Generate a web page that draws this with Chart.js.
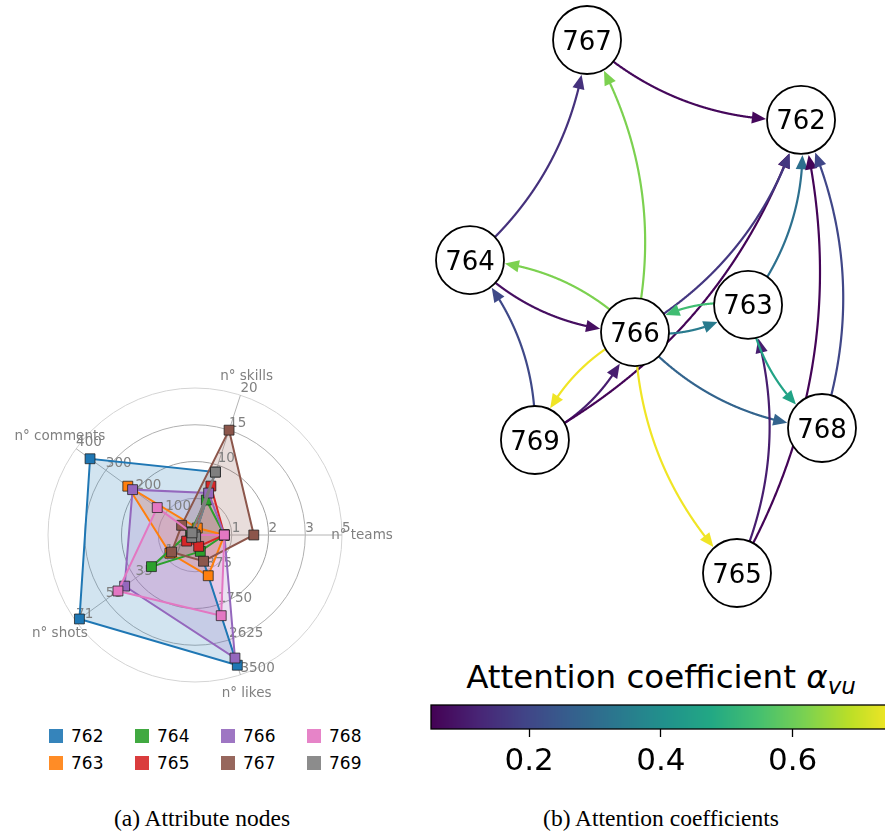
<!DOCTYPE html>
<html>
<head>
<meta charset="utf-8">
<script src="https://cdn.jsdelivr.net/npm/chart.js@4.4.1/dist/chart.umd.min.js"></script>
<style>
  html, body { margin: 0; padding: 0; width: 885px; height: 832px; overflow: hidden; background: #fff; }
  .abs { position: absolute; }
  #radarBox { left: 0; top: 340px; width: 400px; height: 370px; }
  #netBox { left: 420px; top: 0; width: 465px; height: 650px; }
  #cbarBox { left: 429px; top: 703px; width: 456px; height: 80px; overflow: hidden; }
  .cap { font-family: "Liberation Serif", serif; font-size: 23.5px; line-height: 23.5px; text-align: center; white-space: nowrap; color: #000; }
  #capA { left: 52px; width: 300px; top: 807px; }
  #capB { left: 511px; width: 300px; top: 807px; }
  #cbTitle { left: 411px; width: 500px; top: 661px; font-family: "DejaVu Sans", sans-serif; font-size: 32.5px; line-height: 32.5px; text-align: center; white-space: nowrap; color: #000; }
  #cbTitle .m { font-style: italic; }
  #cbTitle sub { font-style: italic; font-size: 23px; vertical-align: -6px; line-height: 0; }
  .lg { position: absolute; height: 14px; display: flex; align-items: center; font-family: "DejaVu Sans", sans-serif; font-size: 17px; line-height: 17px; color: #000; white-space: nowrap; }
  .lg .sw { width: 14px; height: 14px; margin-right: 8px; opacity: 0.9; box-sizing: border-box; }
</style>
</head>
<body>
<div id="radarBox" class="abs"><canvas id="radar" width="400" height="370"></canvas></div>
<div id="legend"></div>
<div id="capA" class="abs cap">(a) Attribute nodes</div>

<div id="netBox" class="abs"><canvas id="net" width="465" height="650"></canvas></div>
<div id="cbTitle" class="abs">Attention coefficient <span class="m">α</span><sub>vu</sub></div>
<div id="cbarBox" class="abs"><canvas id="cbar" width="474" height="80"></canvas></div>
<div id="capB" class="abs cap">(b) Attention coefficients</div>

<script>
// ---------- radar: attribute values per node ----------
const AXIS_LABELS = ['n° skills', 'n° teams', 'n° likes', 'n° shots', 'n° comments'];
const AXIS_MAX = [20, 5, 3500, 71, 400];
const TICK_FRACTIONS = [0.25, 0.5, 0.75, 1];

const SERIES_NAMES = ['762', '763', '764', '765', '766', '767', '768', '769'];
const SERIES_COLORS = ['#1f77b4', '#ff7f0e', '#2ca02c', '#d62728', '#9467bd', '#8c564b', '#e377c2', '#7f7f7f'];

// values in AXIS_LABELS order: skills, teams, likes, shots, comments
const V762 = [9, 0, 3260, 69, 353];
const V763 = [1, 1, 1020, 15, 226];
const V764 = [5, 1, 410, 26, 15];
const V765 = [7, 1, 285, 5, 10];
const V766 = [6, 1, 3080, 42, 210];
const V767 = [15, 2, 657, 14, 45];
const V768 = [0, 1, 2020, 46, 127];
const V769 = [9, 0, 50, 2, 10];
const SERIES_VALUES = [V762, V763, V764, V765, V766, V767, V768, V769];

// ---------- graph: attention between nodes ----------
const NODE_IDS = ['762', '763', '764', '765', '766', '767', '768', '769'];
const NODE_X = [0.881, 0.580, -1.0, 0.517, -0.0625, -0.335, 1.0, -0.631];
const NODE_Y = [0.70, 0.006, 0.174, -1.0, -0.096, 1.0, -0.456, -0.501];

const EDGE_SRC = ['767', '764', '766', '766', '764', '769', '766', '769', '769', '766', '763', '763', '766', '766', '766', '765', '763', '765', '768'];
const EDGE_DST = ['762', '767', '767', '764', '766', '764', '769', '766', '762', '762', '762', '766', '763', '768', '765', '763', '768', '762', '762'];
const EDGE_ATT = [0.065, 0.15, 0.62, 0.62, 0.08, 0.207, 0.746, 0.108, 0.058, 0.164, 0.313, 0.54, 0.342, 0.278, 0.746, 0.108, 0.462, 0.058, 0.2];

const ATT_MIN = 0.051;
const ATT_MAX = 0.76;
const CBAR_TICKS = [0.2, 0.4, 0.6];

// ---------- helpers ----------
const VIRIDIS = ['#440154', '#482475', '#414487', '#355f8d', '#2a788e', '#21918c', '#22a884', '#44bf70', '#7ad151', '#bddf26', '#fde725'];
function hexRgb(h) { return [parseInt(h.slice(1, 3), 16), parseInt(h.slice(3, 5), 16), parseInt(h.slice(5, 7), 16)]; }
function viridis(t) {
  t = Math.max(0, Math.min(1, t));
  const f = t * (VIRIDIS.length - 1);
  const i = Math.min(VIRIDIS.length - 2, Math.floor(f));
  const u = f - i;
  const a = hexRgb(VIRIDIS[i]), b = hexRgb(VIRIDIS[i + 1]);
  const c = a.map((v, k) => Math.round(v + (b[k] - v) * u));
  return `rgb(${c[0]},${c[1]},${c[2]})`;
}
function withAlpha(hex, a) { const c = hexRgb(hex); return `rgba(${c[0]},${c[1]},${c[2]},${a})`; }

Chart.defaults.font.family = '"DejaVu Sans", sans-serif';
Chart.defaults.animation = false;

// ---------- radar chart ----------
const radarText = {
  id: 'radarText',
  beforeDatasetsDraw(chart) {
    const s = chart.scales.r, ctx = chart.ctx;
    ctx.save();
    ctx.fillStyle = '#808080';
    ctx.font = '13.5px "DejaVu Sans"';
    ctx.textAlign = 'left';
    ctx.textBaseline = 'alphabetic';
    AXIS_LABELS.forEach((_, i) => {
      TICK_FRACTIONS.forEach(f => {
        const p = s.getPointPositionForValue(i, f);
        ctx.fillText(String(Math.trunc(AXIS_MAX[i] * f + 1e-9)), p.x, p.y - 3);
      });
    });
    ctx.textAlign = 'center';
    ctx.textBaseline = 'middle';
    AXIS_LABELS.forEach((lab, i) => {
      const p = s.getPointPosition(i, s.drawingArea + 20);
      ctx.fillText(lab, p.x, p.y);
    });
    ctx.restore();
  }
};

new Chart(document.getElementById('radar'), {
  type: 'radar',
  data: {
    labels: AXIS_LABELS,
    datasets: SERIES_NAMES.map((name, i) => ({
      label: name,
      data: SERIES_VALUES[i].map((v, k) => v / AXIS_MAX[k]),
      order: SERIES_NAMES.length - 1 - i,
      borderColor: SERIES_COLORS[i],
      backgroundColor: withAlpha(SERIES_COLORS[i], 0.2),
      borderWidth: 2,
      fill: 'origin',
      pointStyle: 'rect',
      pointRadius: 7,
      pointBorderWidth: 1,
      pointBackgroundColor: SERIES_COLORS[i],
      pointBorderColor: 'rgba(30,30,30,0.75)'
    }))
  },
  options: {
    responsive: false,
    events: [],
    layout: { padding: { left: 48, top: 48, right: 58, bottom: 28 } },
    plugins: {
      legend: { display: false },
      tooltip: { enabled: false },
      // all shaded areas sit beneath every outline and marker
      filler: { drawTime: 'beforeDatasetsDraw' }
    },
    scales: {
      r: {
        min: 0, max: 1,
        startAngle: 18,
        ticks: { display: false, stepSize: 0.25 },
        pointLabels: { display: false },
        grid: { circular: true, color: ['#000', '#b4b4b4', '#a2a2a2', '#b0b0b0', '#d4d4d4'], lineWidth: 1 },
        angleLines: { color: '#b4b4b4', lineWidth: 1 },
        afterFit(s) {
          s.xCenter = (s.left + s.right) / 2;
          s.yCenter = (s.top + s.bottom) / 2;
          s.drawingArea = Math.min(s.right - s.left, s.bottom - s.top) / 2;
        }
      }
    }
  },
  plugins: [radarText]
});

// legend, laid out column by column
const legendBox = document.getElementById('legend');
SERIES_NAMES.forEach((name, i) => {
  const col = Math.floor(i / 2), row = i % 2;
  const d = document.createElement('div');
  d.className = 'lg';
  d.style.left = (49 + col * 86) + 'px';
  d.style.top = (729 + row * 27) + 'px';
  d.innerHTML = `<span class="sw" style="background:${SERIES_COLORS[i]}"></span><span>${name}</span>`;
  legendBox.appendChild(d);
});

// ---------- graph chart ----------
const NODE_R = 34;
const RAD = 0.2;
const HEAD_LEN = 14, HEAD_W = 12;

const edgePlugin = {
  id: 'edges',
  beforeDatasetsDraw(chart) {
    const xs = chart.scales.x, ys = chart.scales.y, ctx = chart.ctx;
    const pos = id => {
      const k = NODE_IDS.indexOf(id);
      return { x: xs.getPixelForValue(NODE_X[k]), y: ys.getPixelForValue(NODE_Y[k]) };
    };
    ctx.save();
    EDGE_SRC.forEach((src, e) => {
      const p0 = pos(src), p2 = pos(EDGE_DST[e]);
      const dx = p2.x - p0.x, dy = p2.y - p0.y;
      const c = { x: (p0.x + p2.x) / 2 - RAD * dy, y: (p0.y + p2.y) / 2 + RAD * dx };
      const N = 600, pts = [];
      for (let k = 0; k <= N; k++) {
        const t = k / N, u = 1 - t;
        pts.push({ x: u * u * p0.x + 2 * u * t * c.x + t * t * p2.x, y: u * u * p0.y + 2 * u * t * c.y + t * t * p2.y });
      }
      const dist = (a, b) => Math.hypot(a.x - b.x, a.y - b.y);
      let kTip = N;
      while (kTip > 0 && dist(pts[kTip], p2) < NODE_R + 1) kTip--;
      const tip = pts[kTip];
      let kBase = kTip;
      while (kBase > 0 && dist(pts[kBase], tip) < HEAD_LEN) kBase--;
      const base = pts[kBase];
      const col = viridis((EDGE_ATT[e] - ATT_MIN) / (ATT_MAX - ATT_MIN));
      ctx.strokeStyle = col;
      ctx.fillStyle = col;
      ctx.lineWidth = 2.2;
      ctx.beginPath();
      ctx.moveTo(pts[0].x, pts[0].y);
      for (let k = 1; k <= kBase + 2 && k <= kTip; k++) ctx.lineTo(pts[k].x, pts[k].y);
      ctx.stroke();
      const ux = (tip.x - base.x) / HEAD_LEN, uy = (tip.y - base.y) / HEAD_LEN;
      ctx.beginPath();
      ctx.moveTo(tip.x, tip.y);
      ctx.lineTo(base.x - uy * HEAD_W / 2, base.y + ux * HEAD_W / 2);
      ctx.lineTo(base.x + uy * HEAD_W / 2, base.y - ux * HEAD_W / 2);
      ctx.closePath();
      ctx.fill();
    });
    ctx.restore();
  },
  afterDatasetsDraw(chart) {
    const xs = chart.scales.x, ys = chart.scales.y, ctx = chart.ctx;
    ctx.save();
    ctx.fillStyle = '#000';
    ctx.font = '26px "DejaVu Sans"';
    ctx.textAlign = 'center';
    ctx.textBaseline = 'alphabetic';
    NODE_IDS.forEach((id, k) => {
      ctx.fillText(id, xs.getPixelForValue(NODE_X[k]), ys.getPixelForValue(NODE_Y[k]) + 9.5);
    });
    ctx.restore();
  }
};

new Chart(document.getElementById('net'), {
  type: 'scatter',
  data: {
    datasets: [{
      data: NODE_X.map((x, k) => ({ x, y: NODE_Y[k] })),
      pointRadius: NODE_R,
      pointBackgroundColor: '#fff',
      pointBorderColor: '#000',
      pointBorderWidth: 1.8,
      clip: false
    }]
  },
  options: {
    responsive: false,
    events: [],
    layout: { padding: { left: 50, right: 63, top: 40, bottom: 77 } },
    plugins: { legend: { display: false }, tooltip: { enabled: false } },
    scales: {
      x: { type: 'linear', min: -1, max: 1, display: false },
      y: { type: 'linear', min: -1, max: 1, display: false }
    }
  },
  plugins: [edgePlugin]
});

// ---------- colour bar ----------
const cbarPlugin = {
  id: 'cbarFill',
  beforeDatasetsDraw(chart) {
    const { ctx, chartArea: a } = chart;
    const x = chart.scales.x;
    ctx.save();
    for (let px = Math.floor(a.left); px < a.right; px++) {
      const v = x.getValueForPixel(px + 0.5);
      ctx.fillStyle = viridis((v - ATT_MIN) / (ATT_MAX - ATT_MIN));
      ctx.fillRect(px, a.top, 1, a.bottom - a.top);
    }
    ctx.strokeStyle = '#000';
    ctx.lineWidth = 1.3;
    ctx.strokeRect(a.left, a.top, a.right - a.left, a.bottom - a.top);
    ctx.restore();
  }
};

new Chart(document.getElementById('cbar'), {
  type: 'scatter',
  data: { datasets: [] },
  options: {
    responsive: false,
    events: [],
    layout: { padding: { left: 2, top: 2, right: 5, bottom: 0 } },
    plugins: { legend: { display: false }, tooltip: { enabled: false } },
    scales: {
      x: {
        type: 'linear', position: 'bottom', min: ATT_MIN, max: ATT_MAX,
        afterBuildTicks(s) { s.ticks = CBAR_TICKS.map(v => ({ value: v })); },
        afterFit(s) { s.height = 54; },
        grid: { drawOnChartArea: false, drawTicks: true, tickLength: 8, tickWidth: 1.3, tickColor: '#000', color: '#000' },
        border: { display: false },
        ticks: { color: '#000', font: { size: 31 }, padding: 6, maxRotation: 0, autoSkip: false, callback: v => v.toFixed(1) }
      },
      y: { display: false, min: 0, max: 1 }
    }
  },
  plugins: [cbarPlugin]
});
</script>
</body>
</html>
